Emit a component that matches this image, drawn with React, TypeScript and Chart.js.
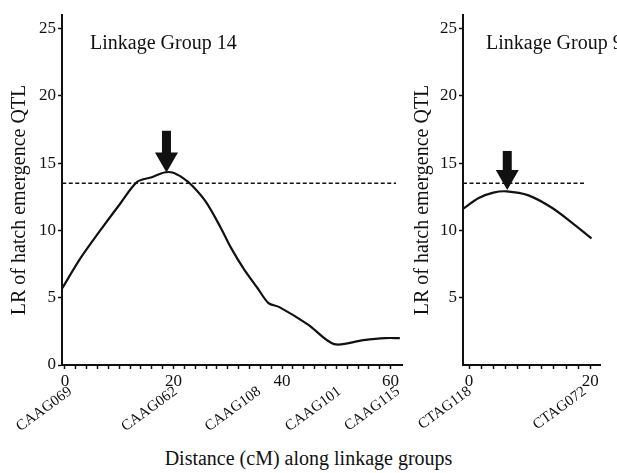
import React, { useEffect, useRef } from 'react';
import { Chart, registerables } from 'chart.js';

Chart.register(...registerables);

const FONT = "'Liberation Serif', 'Times New Roman', Times, serif";
const INK = '#111111';

// ---------- Linkage Group 14 ----------
const lg14Pos = [-0.5, 2.8, 6.5, 10.2, 13.3, 16.0, 18.3, 19.8, 21.7, 23.5, 26.0, 28.7, 30.6, 33.0, 35.5, 37.5, 39.5, 44.8, 49.6, 55.0, 59.0, 61.7];
const lg14LR = [5.7, 7.9, 10.0, 12.0, 13.6, 13.95, 14.3, 14.3, 13.9, 13.3, 12.1, 10.2, 8.7, 7.1, 5.7, 4.6, 4.3, 3.0, 1.55, 1.85, 2.0, 2.0];
const lg14Markers = ['CAAG069', 'CAAG062', 'CAAG108', 'CAAG101', 'CAAG115'];
const lg14MarkerPos = [1.0, 20.4, 35.8, 50.6, 61.4];
const lg14MajorTicks = [0, 20, 40, 60];
const lg14MinorTicks = [0, 2, 4, 6, 8, 10, 12, 14, 16, 18, 20, 22, 24, 26, 28, 30, 32, 34, 36, 38, 40, 42, 44, 46, 48, 50, 52, 54, 56, 58, 60];
const lg14Threshold = [-0.5, 61];
const lg14Arrow = { x: 18.7, top: 17.4, tip: 14.3 };

// ---------- Linkage Group 9 ----------
const lg9Pos = [-1.0, 1.6, 4.0, 6.2, 9.8, 13.6, 16.9, 20.2];
const lg9LR = [11.6, 12.4, 12.8, 12.9, 12.6, 11.7, 10.6, 9.4];
const lg9Markers = ['CTAG118', 'CTAG072'];
const lg9MarkerPos = [0.1, 19.1];
const lg9MajorTicks = [0, 20];
const lg9MinorTicks = [0, 2, 4, 6, 8, 10, 12, 14, 16, 18, 20];
const lg9Threshold = [-1.0, 19.3];
const lg9Arrow = { x: 6.3, top: 15.9, tip: 13.0 };

const thresholdLR = 13.5;
const yTicksLeft = [0, 5, 10, 15, 20, 25];
const yTicksRight = [5, 10, 15, 20, 25];

const Y_TITLE = 'LR of hatch emergence QTL';
const X_TITLE = 'Distance (cM) along linkage groups';

type PanelCfg = {
  pos: number[];
  lr: number[];
  markers: string[];
  markerPos: number[];
  major: number[];
  minor: number[];
  threshold: number[];
  arrow: { x: number; top: number; tip: number };
  yTicks: number[];
  xMin: number;
  xMax: number;
  title: string;
  titleX: number;
  yTitleX: number;
  padding: { left: number; top: number; right: number; bottom: number };
  yWidth: number;
};

const annotPlugin = {
  id: 'annot',
  afterDatasetsDraw(chart: any, _args: any, opts: any) {
    const { ctx, scales, chartArea } = chart;
    const xs = scales.x;
    const ys = scales.y;
    ctx.save();
    // arrow marking the QTL peak
    const ax = xs.getPixelForValue(opts.arrow.x);
    const at = ys.getPixelForValue(opts.arrow.top);
    const ap = ys.getPixelForValue(opts.arrow.tip);
    const headLen = 20;
    const shaftW = 9;
    const headW = 23;
    ctx.fillStyle = INK;
    ctx.fillRect(ax - shaftW / 2, at, shaftW, ap - headLen - at + 1);
    ctx.beginPath();
    ctx.moveTo(ax - headW / 2, ap - headLen);
    ctx.lineTo(ax + headW / 2, ap - headLen);
    ctx.lineTo(ax, ap);
    ctx.closePath();
    ctx.fill();
    // panel title
    ctx.font = `20px ${FONT}`;
    ctx.textAlign = 'left';
    ctx.textBaseline = 'alphabetic';
    ctx.fillText(opts.title, opts.titleX, 49);
    ctx.restore();

    // y-axis title
    ctx.save();
    ctx.fillStyle = INK;
    ctx.font = `20px ${FONT}`;
    const cy = (chartArea.top + chartArea.bottom) / 2 + 10;
    ctx.translate(opts.yTitleX, cy);
    ctx.rotate(-Math.PI / 2);
    ctx.textAlign = 'center';
    ctx.textBaseline = 'middle';
    ctx.fillText(Y_TITLE, 0, 0);
    ctx.restore();

    // rotated marker names under the distance axis
    ctx.save();
    ctx.fillStyle = INK;
    ctx.font = `15px ${FONT}`;
    ctx.textAlign = 'right';
    ctx.textBaseline = 'middle';
    const angle = (-36 * Math.PI) / 180;
    opts.markers.forEach((name: string, i: number) => {
      const mx = xs.getPixelForValue(opts.markerPos[i]);
      const my = chartArea.bottom + 25;
      ctx.save();
      ctx.translate(mx, my);
      ctx.rotate(angle);
      ctx.fillText(name, 0, 0);
      ctx.restore();
    });
    ctx.restore();
  },
};

function Panel({ cfg, left, width }: { cfg: PanelCfg; left: number; width: number }) {
  const ref = useRef<HTMLCanvasElement>(null);
  useEffect(() => {
    if (!ref.current) return;
    const chart = new Chart(ref.current, {
      type: 'line',
      data: {
        datasets: [
          {
            data: cfg.pos.map((p, i) => ({ x: p, y: cfg.lr[i] })),
            borderColor: INK,
            borderWidth: 2.2,
            pointRadius: 0,
            tension: 0.3,
            fill: false,
          },
          {
            data: cfg.threshold.map((p) => ({ x: p, y: thresholdLR })),
            borderColor: INK,
            borderWidth: 1.3,
            borderDash: [4, 2.5],
            pointRadius: 0,
            fill: false,
          },
        ],
      },
      options: {
        animation: false,
        responsive: false,
        maintainAspectRatio: false,
        events: [],
        layout: { padding: cfg.padding },
        plugins: {
          legend: { display: false },
          tooltip: { enabled: false },
          annot: {
            arrow: cfg.arrow,
            title: cfg.title,
            titleX: cfg.titleX,
            yTitleX: cfg.yTitleX,
            markers: cfg.markers,
            markerPos: cfg.markerPos,
          },
        } as any,
        scales: {
          x: {
            type: 'linear',
            position: 'bottom',
            min: cfg.xMin,
            max: cfg.xMax,
            afterBuildTicks: (s: any) => {
              s.ticks = cfg.minor.map((v) => ({ value: v }));
            },
            afterFit: (s: any) => {
              s.height = 22;
            },
            ticks: {
              autoSkip: false,
              minRotation: 0,
              maxRotation: 0,
              padding: 2,
              color: INK,
              font: { family: FONT, size: 17 },
              callback: (v: any) => (cfg.major.includes(Number(v)) ? String(v) : ''),
            },
            grid: {
              drawOnChartArea: false,
              drawTicks: true,
              tickLength: 4,
              tickColor: INK,
              tickWidth: 1.5,
            },
            border: { color: INK, width: 2 },
          },
          y: {
            type: 'linear',
            min: 0,
            max: 26,
            afterBuildTicks: (s: any) => {
              s.ticks = cfg.yTicks.map((v) => ({ value: v }));
            },
            afterFit: (s: any) => {
              s.width = cfg.yWidth;
            },
            ticks: {
              padding: 2,
              color: INK,
              font: { family: FONT, size: 17 },
            },
            grid: {
              drawOnChartArea: false,
              drawTicks: true,
              tickLength: 4,
              tickColor: INK,
              tickWidth: 1.5,
            },
            border: { color: INK, width: 2 },
            title: { display: false },
          },
        },
      } as any,
      plugins: [annotPlugin],
    });
    return () => chart.destroy();
  }, [cfg]);
  return (
    <canvas
      ref={ref}
      width={width}
      height={440}
      style={{ position: 'absolute', left, top: 0, width, height: 440 }}
    />
  );
}

const leftCfg: PanelCfg = {
  pos: lg14Pos,
  lr: lg14LR,
  markers: lg14Markers,
  markerPos: lg14MarkerPos,
  major: lg14MajorTicks,
  minor: lg14MinorTicks,
  threshold: lg14Threshold,
  arrow: lg14Arrow,
  yTicks: yTicksLeft,
  xMin: -0.55,
  xMax: 62.1,
  title: 'Linkage Group 14',
  titleX: 90,
  yTitleX: 20,
  padding: { left: 8, top: 15, right: 10, bottom: 53 },
  yWidth: 54,
};

const rightCfg: PanelCfg = {
  pos: lg9Pos,
  lr: lg9LR,
  markers: lg9Markers,
  markerPos: lg9MarkerPos,
  major: lg9MajorTicks,
  minor: lg9MinorTicks,
  threshold: lg9Threshold,
  arrow: lg9Arrow,
  yTicks: yTicksRight,
  xMin: -1.0,
  xMax: 21.6,
  title: 'Linkage Group 9',
  titleX: 76,
  yTitleX: 13,
  padding: { left: 1, top: 15, right: 17, bottom: 53 },
  yWidth: 52,
};

export default function App() {
  return (
    <div
      style={{
        position: 'absolute',
        left: 0,
        top: 0,
        width: 617,
        height: 473,
        background: '#ffffff',
        overflow: 'hidden',
      }}
    >
      <Panel cfg={leftCfg} left={0} width={412} />
      <Panel cfg={rightCfg} left={410} width={207} />
      <div
        style={{
          position: 'absolute',
          left: 0,
          top: 446,
          width: 617,
          textAlign: 'center',
          fontFamily: FONT,
          fontSize: 20,
          lineHeight: '24px',
          color: INK,
        }}
      >
        {X_TITLE}
      </div>
    </div>
  );
}
